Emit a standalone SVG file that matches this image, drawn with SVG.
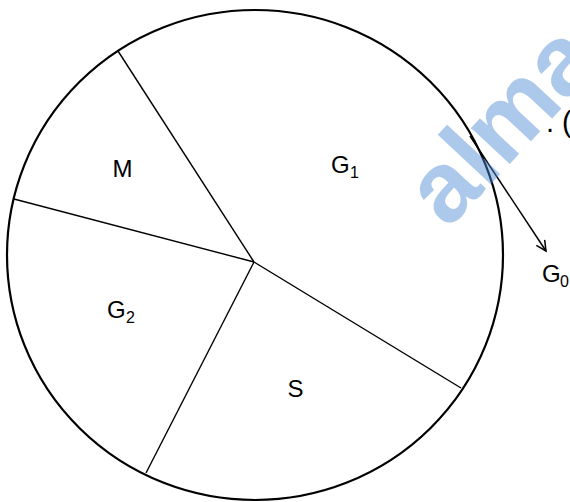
<svg xmlns="http://www.w3.org/2000/svg" width="570" height="502" viewBox="0 0 570 502">
  <style>
    .lbl { font-family: "Liberation Sans", Arial, sans-serif; font-size: 24px; fill: #000; }
    .sub { font-size: 16px; }
    .div { stroke: #000; stroke-width: 1.4; fill: none; }
    .wm { font-family: "Liberation Sans", Arial, sans-serif; font-weight: bold; font-size: 100px; fill: #4a8ad4; fill-opacity: 0.46; }
  </style>
  <defs>
    <marker id="arr" markerUnits="userSpaceOnUse" markerWidth="14" markerHeight="14" refX="11" refY="6" orient="auto">
      <path d="M1,1 L11,6 L1,11" fill="none" stroke="#000" stroke-width="1.5"/>
    </marker>
  </defs>
  <rect width="570" height="502" fill="#fff"/>
  <g id="circle">
    <ellipse cx="255" cy="255" rx="248" ry="245" fill="none" stroke="#000" stroke-width="2.2"/>
  </g>
  <g id="connectors">
    <line class="div" x1="254" y1="262" x2="118" y2="51"/>
    <line class="div" x1="254" y1="262" x2="14" y2="199"/>
    <line class="div" x1="254" y1="262" x2="146" y2="473"/>
    <line class="div" x1="254" y1="262" x2="461" y2="388"/>
    <line x1="470" y1="136" x2="546" y2="251" stroke="#000" stroke-width="1.5" marker-end="url(#arr)"/>
  </g>
  <g id="M"><text class="lbl" x="122.5" y="177" text-anchor="middle">M</text></g>
  <g id="G1"><text class="lbl" x="331" y="172.5">G<tspan class="sub" x="350" y="178">1</tspan></text></g>
  <g id="G2"><text class="lbl" x="107" y="318">G<tspan class="sub" x="126" y="323">2</tspan></text></g>
  <g id="S"><text class="lbl" x="295.5" y="397" text-anchor="middle">S</text></g>
  <g id="G0"><text class="lbl" x="542" y="282">G<tspan class="sub" x="560" y="287">0</tspan></text></g>
  <g id="cut"><text class="lbl" style="font-size:29px" x="546" y="132">. (</text></g>
  <g id="watermark">
    <text class="wm" transform="translate(448,230) rotate(-47)">alma</text>
  </g>
</svg>
